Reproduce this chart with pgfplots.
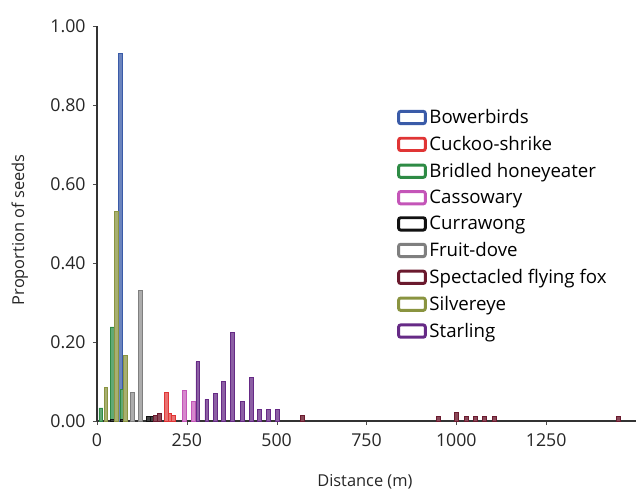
\documentclass[border=0pt]{standalone}
\usepackage{pgfplots}
\pgfplotsset{compat=1.18}
\usepackage{fontspec}
\setmainfont{Open Sans}
\definecolor{cBow}{HTML}{3A5BA8}
\definecolor{cCuc}{HTML}{E03535}
\definecolor{cBri}{HTML}{2E8B45}
\definecolor{cCas}{HTML}{C455B8}
\definecolor{cCur}{HTML}{111111}
\definecolor{cFru}{HTML}{7F7F7F}
\definecolor{cFox}{HTML}{6B1A2E}
\definecolor{cSil}{HTML}{8A9440}
\definecolor{cSta}{HTML}{662A86}
\begin{document}
\begin{tikzpicture}
\useasboundingbox (-72.75pt,-54.75pt) rectangle (404.25pt,315.75pt);
\begin{axis}[
  at={(0,0)}, anchor=south west,
  scale only axis, width=404.25pt, height=296.25pt,
  xmin=0, xmax=1500, ymin=0, ymax=1,
  axis lines=left, axis line style={-, line width=0.8pt, black!80},
  xtick={0,250,500,750,1000,1250},
  ytick={0,0.2,0.4,0.6,0.8,1.0},
  tick align=outside, major tick length=3pt,
  tick style={black!70},
  yticklabel style={/pgf/number format/fixed, /pgf/number format/fixed zerofill, /pgf/number format/precision=2, xshift=-2pt},
  xticklabel style={/pgf/number format/1000 sep={}, yshift=-3pt},
  /pgf/number format/assume math mode=true,
  ticklabel style={font=\fontsize{13.3}{15}\selectfont, text=black!85},
  xlabel={Distance (m)}, ylabel={Proportion of seeds},
  label style={font=\fontsize{12.3}{14}\selectfont, text=black!85},
  xlabel style={at={(axis description cs:0.497,-0.154)}, anchor=center},
  ylabel style={at={(axis description cs:-0.143,0.484)}, anchor=center},
  every axis plot/.append style={ybar, bar width=11, bar shift=0pt, line width=0.7pt},
  legend style={at={(axis description cs:0.549,0.803)}, anchor=north west,
    draw=none, fill=none, font=\fontsize{14}{16}\selectfont,
    row sep=4pt, cells={anchor=west}},
  legend image code/.code={\draw[#1, fill=white, line width=2.2pt, rounded corners=1.5pt] (0pt,-4.6pt) rectangle (20pt,4.6pt);},
]
\addplot[draw=cBow, fill=cBow!75] coordinates {(64,0.93)};
\addlegendentry{Bowerbirds}
\addplot[draw=cCuc, fill=cCuc!70] coordinates {(192,0.072) (203,0.02) (214,0.015)};
\addlegendentry{Cuckoo-shrike}
\addplot[draw=cBri, fill=cBri!75] coordinates {(11,0.033) (42,0.238) (70,0.08)};
\addlegendentry{Bridled honeyeater}
\addplot[draw=cCas, fill=cCas!70] coordinates {(244,0.078) (269,0.05)};
\addlegendentry{Cassowary}
\addplot[draw=cCur, fill=cCur!80] coordinates {(42,0.005) (70,0.005) (100,0.005) (142,0.012) (153,0.012)};
\addlegendentry{Currawong}
\addplot[draw=cFru, fill=cFru!65] coordinates {(100,0.072) (122,0.33)};
\addlegendentry{Fruit-dove}
\addplot[draw=cFox, fill=cFox!80] coordinates {(162,0.015) (175,0.018) (572,0.015) (950,0.012) (1000,0.022) (1028,0.012) (1053,0.012) (1078,0.012) (1106,0.012) (1450,0.012)};
\addlegendentry{Spectacled flying fox}
\addplot[draw=cSil, fill=cSil!75] coordinates {(25,0.085) (55,0.53) (78,0.165)};
\addlegendentry{Silvereye}
\addplot[draw=cSta, fill=cSta!75] coordinates {(281,0.15) (306,0.055) (331,0.07) (353,0.10) (378,0.225) (406,0.05) (431,0.11) (453,0.028) (478,0.028) (503,0.028)};
\addlegendentry{Starling}
\end{axis}
\end{tikzpicture}
\end{document}
